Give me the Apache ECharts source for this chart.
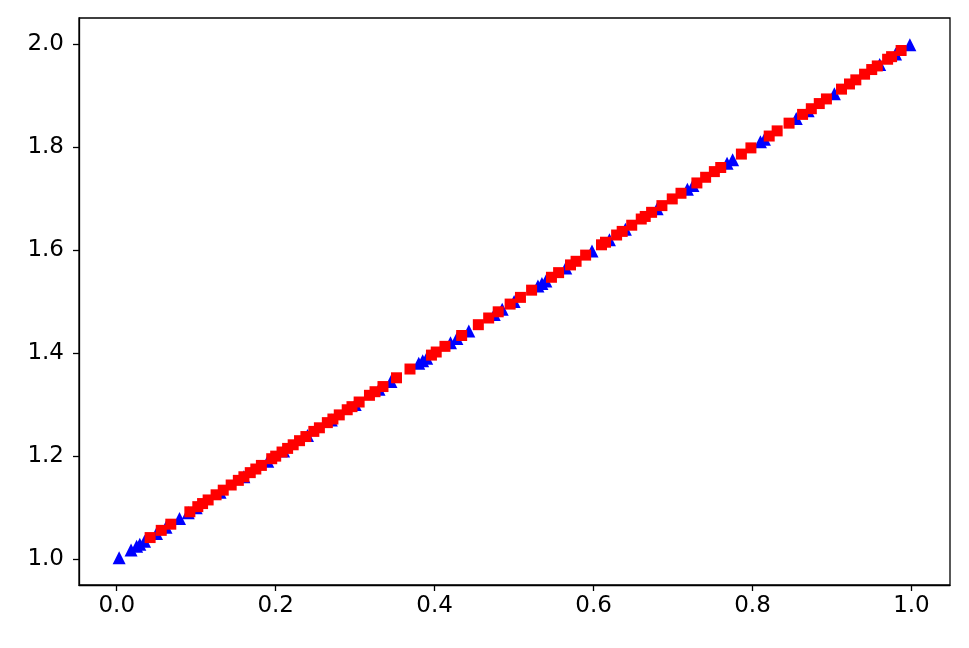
<!DOCTYPE html>
<html>
<head>
<meta charset="utf-8">
<script src="https://cdn.jsdelivr.net/npm/echarts@6/dist/echarts.min.js"></script>
<style>
  html, body { margin: 0; padding: 0; background: #fff; }
  #chart { width: 969px; height: 648px; }
</style>
</head>
<body>
<div id="chart"></div>
<script>
// tick labels
const xTicks = [0.0, 0.2, 0.4, 0.6, 0.8, 1.0]
const yTicks = [1.0, 1.2, 1.4, 1.6, 1.8, 2.0]

// blue triangles
const bluePoints = [
  [0.003, 1.003], [0.018, 1.018], [0.025, 1.025], [0.029, 1.029], [0.035, 1.035],
  [0.050, 1.050], [0.062, 1.062], [0.079, 1.079], [0.090, 1.090], [0.100, 1.100],
  [0.130, 1.130], [0.160, 1.160], [0.190, 1.190], [0.210, 1.210], [0.240, 1.240],
  [0.270, 1.270], [0.300, 1.300], [0.330, 1.330], [0.345, 1.345], [0.380, 1.380],
  [0.385, 1.385], [0.390, 1.390], [0.420, 1.420], [0.428, 1.428], [0.443, 1.443],
  [0.475, 1.475], [0.485, 1.485], [0.500, 1.500], [0.530, 1.530], [0.535, 1.535],
  [0.540, 1.540], [0.565, 1.565], [0.598, 1.598], [0.620, 1.620], [0.640, 1.640],
  [0.680, 1.680], [0.718, 1.718], [0.725, 1.725], [0.768, 1.768], [0.775, 1.775],
  [0.810, 1.810], [0.815, 1.815], [0.855, 1.855], [0.870, 1.870], [0.903, 1.903],
  [0.960, 1.960], [0.980, 1.980], [0.998, 1.998]
]

// red squares
const redPoints = [
  [0.042, 1.042], [0.056, 1.056], [0.068, 1.068], [0.092, 1.092], [0.102, 1.102],
  [0.108, 1.108], [0.115, 1.115], [0.125, 1.125], [0.134, 1.134], [0.144, 1.144],
  [0.153, 1.153], [0.160, 1.160], [0.168, 1.168], [0.175, 1.175], [0.182, 1.182],
  [0.195, 1.195], [0.200, 1.200], [0.208, 1.208], [0.215, 1.215], [0.222, 1.222],
  [0.230, 1.230], [0.238, 1.238], [0.248, 1.248], [0.255, 1.255], [0.265, 1.265],
  [0.272, 1.272], [0.280, 1.280], [0.290, 1.290], [0.296, 1.296], [0.305, 1.305],
  [0.318, 1.318], [0.325, 1.325], [0.335, 1.335], [0.352, 1.352], [0.369, 1.369],
  [0.396, 1.396], [0.402, 1.402], [0.413, 1.413], [0.434, 1.434], [0.455, 1.455],
  [0.468, 1.468], [0.480, 1.480], [0.495, 1.495], [0.508, 1.508], [0.522, 1.522],
  [0.547, 1.547], [0.556, 1.556], [0.571, 1.571], [0.578, 1.578], [0.590, 1.590],
  [0.610, 1.610], [0.615, 1.615], [0.629, 1.629], [0.636, 1.636], [0.648, 1.648],
  [0.660, 1.660], [0.665, 1.665], [0.673, 1.673], [0.686, 1.686], [0.699, 1.699],
  [0.710, 1.710], [0.730, 1.730], [0.741, 1.741], [0.752, 1.752], [0.760, 1.760],
  [0.786, 1.786], [0.798, 1.798], [0.821, 1.821], [0.831, 1.831], [0.846, 1.846],
  [0.863, 1.863], [0.874, 1.874], [0.884, 1.884], [0.893, 1.893], [0.912, 1.912],
  [0.922, 1.922], [0.930, 1.930], [0.941, 1.941], [0.950, 1.950], [0.957, 1.957],
  [0.970, 1.970], [0.975, 1.975], [0.987, 1.987]
]

const chart = echarts.init(document.getElementById('chart'))

const axisCommon = {
  axisLine: { show: true, onZero: false, lineStyle: { color: '#000', width: 1.3 } },
  axisTick: { show: true, inside: false, length: 6, lineStyle: { color: '#000', width: 1.3 } },
  splitLine: { show: false },
  axisLabel: {
    color: '#000',
    fontFamily: 'DejaVu Sans',
    fontSize: 23,
    formatter: (v) => Number(v).toFixed(1)
  }
}

chart.setOption({
  animation: false,
  grid: {
    left: 79, right: 19, top: 18, bottom: 63,
    show: true, borderColor: '#000', borderWidth: 1.3, backgroundColor: '#fff'
  },
  xAxis: {
    type: 'value',
    min: -0.0475,
    max: 1.0485,
    ...axisCommon,
    axisTick: { ...axisCommon.axisTick, customValues: xTicks },
    axisLabel: { ...axisCommon.axisLabel, margin: 10, customValues: xTicks }
  },
  yAxis: {
    type: 'value',
    min: 0.95,
    max: 2.05,
    ...axisCommon,
    axisTick: { ...axisCommon.axisTick, customValues: yTicks },
    axisLabel: { ...axisCommon.axisLabel, margin: 15, customValues: yTicks }
  },
  series: [
    {
      type: 'scatter',
      data: bluePoints,
      symbol: 'triangle',
      symbolSize: 13,
      itemStyle: { color: '#0000ff', opacity: 1 }
    },
    {
      type: 'scatter',
      data: redPoints,
      symbol: 'rect',
      symbolSize: 11,
      itemStyle: { color: '#ff0000', opacity: 1 }
    }
  ]
})
</script>
</body>
</html>
